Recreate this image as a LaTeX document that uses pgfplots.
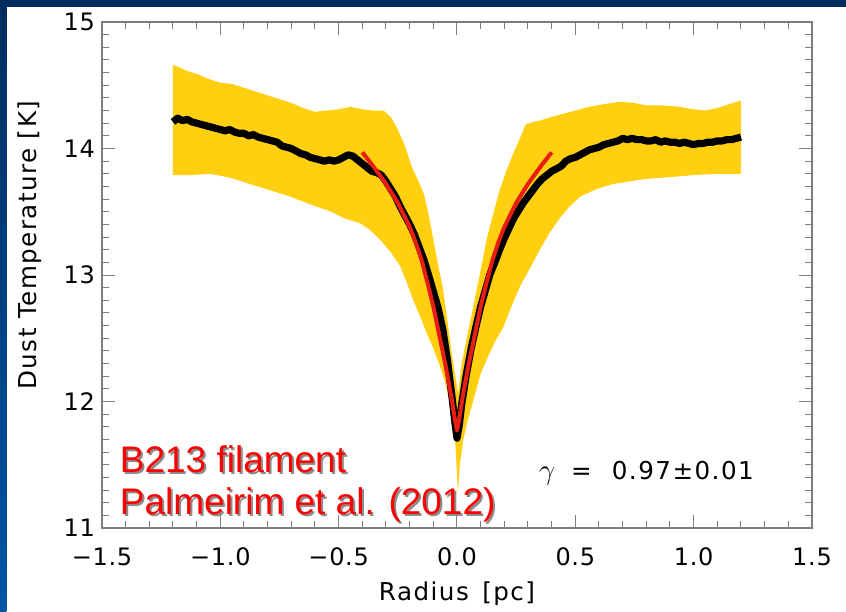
\documentclass[border=0pt]{standalone}
\usepackage{pgfplots}
\pgfplotsset{compat=1.18}
\usepackage{fontspec}
\setmainfont{DejaVu Sans}
\newfontfamily\idl[LetterSpace=3]{DejaVu Sans}
\newfontfamily\idlwide[LetterSpace=6]{DejaVu Sans}
\newfontfamily\arialf{Liberation Sans}
\definecolor{bandyellow}{RGB}{255,207,16}
\definecolor{fitred}{RGB}{232,30,20}
\definecolor{navy}{RGB}{0,45,95}
\definecolor{slideblue}{RGB}{0,85,165}
\definecolor{axgray}{RGB}{125,125,125}

\pgfplotstableread{
x y
-1.20 14.66
-1.17 14.64
-1.15 14.62
-1.12 14.60
-1.10 14.59
-1.05 14.55
-1.00 14.52
-0.95 14.51
-0.90 14.48
-0.85 14.45
-0.80 14.42
-0.75 14.39
-0.70 14.36
-0.65 14.32
-0.60 14.29
-0.55 14.30
-0.50 14.31
-0.45 14.33
-0.40 14.31
-0.35 14.30
-0.31 14.30
-0.28 14.25
-0.25 14.15
-0.22 14.02
-0.19 13.85
-0.16 13.73
-0.14 13.64
-0.12 13.48
-0.10 13.28
-0.08 13.08
-0.06 12.90
-0.04 12.63
-0.02 12.35
0.005 12.06
0.02 12.30
0.04 12.49
0.06 12.67
0.083 12.88
0.10 13.04
0.125 13.28
0.15 13.46
0.18 13.67
0.21 13.83
0.24 13.97
0.266 14.08
0.29 14.19
0.32 14.21
0.35 14.22
0.40 14.25
0.46 14.28
0.52 14.31
0.56 14.33
0.62 14.35
0.69 14.37
0.75 14.36
0.80 14.34
0.87 14.34
0.94 14.33
1.00 14.31
1.05 14.30
1.10 14.32
1.15 14.35
1.20 14.38
1.20 13.80
1.10 13.80
1.00 13.79
0.94 13.78
0.87 13.77
0.80 13.76
0.73 13.74
0.66 13.72
0.59 13.68
0.52 13.62
0.47 13.53
0.435 13.45
0.39 13.33
0.35 13.20
0.31 13.06
0.266 12.91
0.23 12.75
0.196 12.59
0.16 12.47
0.125 12.33
0.10 12.22
0.069 12.01
0.045 11.85
0.027 11.70
0.012 11.50
0.004 11.28
-0.002 11.50
-0.008 11.70
-0.02 11.86
-0.03 11.99
-0.05 12.15
-0.072 12.28
-0.10 12.42
-0.128 12.54
-0.155 12.67
-0.185 12.80
-0.21 12.93
-0.24 13.07
-0.28 13.18
-0.325 13.28
-0.37 13.36
-0.41 13.41
-0.48 13.45
-0.53 13.50
-0.593 13.54
-0.65 13.58
-0.705 13.62
-0.79 13.67
-0.875 13.72
-0.96 13.77
-1.043 13.80
-1.12 13.79
-1.20 13.79
}\band

\pgfplotstableread{
x y
-1.20 14.21
-1.18 14.24
-1.16 14.22
-1.14 14.23
-1.12 14.21
-1.10 14.20
-1.08 14.19
-1.06 14.18
-1.04 14.17
-1.02 14.16
-1.00 14.15
-0.98 14.14
-0.96 14.15
-0.94 14.13
-0.92 14.12
-0.90 14.12
-0.88 14.10
-0.86 14.11
-0.84 14.09
-0.82 14.08
-0.80 14.07
-0.78 14.06
-0.76 14.05
-0.74 14.02
-0.72 14.01
-0.70 14.00
-0.68 13.98
-0.66 13.96
-0.64 13.95
-0.62 13.93
-0.60 13.92
-0.58 13.91
-0.56 13.90
-0.54 13.91
-0.52 13.90
-0.50 13.91
-0.48 13.93
-0.46 13.95
-0.44 13.94
-0.42 13.91
-0.40 13.88
-0.38 13.85
-0.36 13.82
-0.34 13.81
-0.32 13.79
-0.30 13.74
-0.28 13.68
-0.26 13.62
-0.24 13.54
-0.22 13.47
-0.20 13.40
-0.18 13.32
-0.16 13.22
-0.14 13.12
-0.12 13.00
-0.10 12.87
-0.08 12.74
-0.06 12.57
-0.04 12.32
-0.02 12.02
-0.01 11.85
0.00 11.71
0.01 11.82
0.02 11.98
0.04 12.22
0.06 12.42
0.08 12.59
0.10 12.75
0.12 12.88
0.14 13.01
0.16 13.10
0.18 13.20
0.20 13.29
0.22 13.37
0.24 13.45
0.26 13.51
0.28 13.57
0.30 13.62
0.32 13.67
0.34 13.72
0.36 13.76
0.38 13.79
0.40 13.82
0.42 13.84
0.44 13.86
0.46 13.90
0.48 13.92
0.50 13.93
0.52 13.95
0.54 13.97
0.56 13.99
0.58 14.00
0.60 14.01
0.62 14.03
0.64 14.04
0.66 14.05
0.68 14.06
0.70 14.08
0.72 14.07
0.74 14.08
0.76 14.07
0.78 14.07
0.80 14.06
0.82 14.06
0.84 14.07
0.86 14.05
0.88 14.06
0.90 14.05
0.92 14.05
0.94 14.04
0.96 14.05
0.98 14.04
1.00 14.03
1.02 14.04
1.04 14.04
1.06 14.05
1.08 14.05
1.10 14.06
1.12 14.06
1.14 14.07
1.16 14.07
1.18 14.08
1.20 14.09
}\profile

\pgfplotstableread{
x y
-0.40 13.97
-0.35 13.85
-0.30 13.72
-0.25 13.57
-0.20 13.38
-0.175 13.26
-0.15 13.12
-0.125 12.94
-0.10 12.75
-0.07 12.48
-0.05 12.30
-0.04 12.20
-0.03 12.10
-0.02 11.99
-0.01 11.87
0.00 11.77
0.01 11.87
0.02 11.99
0.03 12.10
0.04 12.20
0.05 12.30
0.07 12.48
0.10 12.75
0.125 12.94
0.15 13.12
0.175 13.26
0.20 13.38
0.25 13.57
0.30 13.72
0.35 13.85
0.40 13.97
}\fit

\begin{document}
\begin{tikzpicture}
\fill[white] (-51pt,-41.5pt) rectangle (372pt,264pt);
\shade[top color=navy, bottom color=slideblue] (-51pt,-41.5pt) rectangle (-47.8pt,264pt);
\fill[navy] (-51pt,260.5pt) rectangle (372pt,264pt);
\begin{axis}[at={(0pt,0pt)}, anchor=south west, scale only axis,
  width=355pt, height=253pt,
  xmin=-1.5, xmax=1.5, ymin=11, ymax=15,
  xtick={-1.5,-1,-0.5,0,0.5,1,1.5},
  xticklabels={−1.5,−1.0,−0.5,0.0,0.5,1.0,1.5},
  ytick={11,12,13,14,15}, yticklabels={11,12,13,14,15},
  minor x tick num=4, minor y tick num=9,
  major tick length=6.5pt, minor tick length=3.5pt,
  axis line style={axgray, line width=0.6pt},
  tick style={axgray, line width=0.5pt},
  tick label style={font=\fontsize{12}{14}\idl},
  xticklabel style={yshift=-6.5pt},
  xlabel={Radius\, [pc]}, ylabel={Dust Temperature [K]},
  label style={font=\fontsize{12.3}{14}\idlwide},
  xlabel style={at={(rel axis cs:0.5,-0.1423)}, anchor=base},
  ylabel style={at={(rel axis cs:-0.1014,0.559)}, anchor=center},
  clip=true]
\addplot[fill=bandyellow, draw=none] table[x=x,y=y] {\band};
\addplot[black, line width=3.6pt, line join=round] table[x=x,y=y] {\profile};
\addplot[fitred, line width=2pt, line join=round] table[x=x,y=y] {\fit};
\node[anchor=base west, inner sep=0] at (axis cs:0.345,11.38)
  {\fontsize{12.3}{14}\idlwide{\fontsize{15}{16}\selectfont$\gamma$}\hspace{8pt}=\hspace{10pt}0.97±0.01};
\node[anchor=base west, inner sep=0, text=black!45, xshift=1pt, yshift=-1pt] at (axis cs:-1.426,11.435)
  {\fontsize{18.5}{22}\arialf B213 filament};
\node[anchor=base west, inner sep=0, text=black!45, xshift=1pt, yshift=-1pt] at (axis cs:-1.426,11.103)
  {\fontsize{18.5}{22}\arialf Palmeirim et al. (2012)};
\node[anchor=base west, inner sep=0, text=red] at (axis cs:-1.426,11.435)
  {\fontsize{18.5}{22}\arialf B213 filament};
\node[anchor=base west, inner sep=0, text=red] at (axis cs:-1.426,11.103)
  {\fontsize{18.5}{22}\arialf Palmeirim et al. (2012)};
\end{axis}
\pgfresetboundingbox
\useasboundingbox (-51pt,-41.5pt) rectangle (372pt,264pt);
\end{tikzpicture}
\end{document}
